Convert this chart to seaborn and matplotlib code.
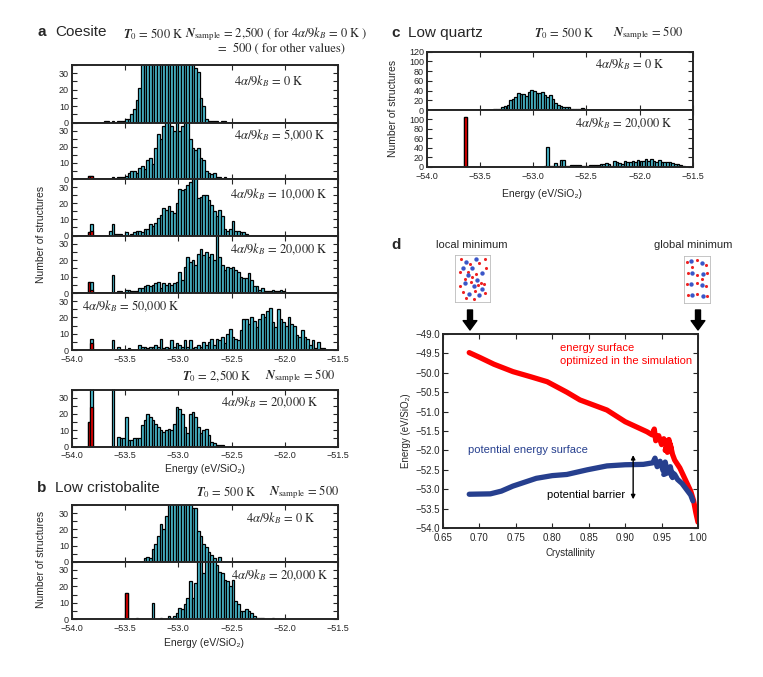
import numpy as np
import matplotlib
matplotlib.use("Agg")
from matplotlib import pyplot as plt
from matplotlib.ticker import FixedLocator, FuncFormatter, MultipleLocator
import seaborn as sns

# ---- histogram data: counts per 0.025 eV bin, starting at the given energy ----
BIN = 0.025

coesite_start = -53.85
coesite_0K_start = -53.7
coesite_0K = [1, 1, 0, 1, 0, 1, 1, 1, 2, 2, 5, 8, 14, 21,
              40, 60, 85, 110, 135, 160, 180, 195, 205, 210, 205, 195, 180, 160, 135, 110, 85, 60, 45, 38,
              33, 31, 15, 10, 2, 1, 1, 1, 1, 0, 1, 1]
coesite_5000K = [2, 2, 0, 0, 0, 0, 0, 0, 0,
                 1, 0, 1, 1, 1, 2, 4, 5, 5, 4, 7, 8, 6, 12, 13, 9, 19, 28, 25, 33, 38, 36, 33, 30,
                 37, 30, 33, 36, 36, 25, 19, 18, 19, 13, 12, 5, 4, 3, 4, 1, 1, 0, 1]
coesite_5000K_red = [2, 2]
coesite_10000K = [2, 7, 0, 0, 0, 0, 0, 0,
                  3, 7, 1, 1, 1, 0, 2, 0, 1, 2, 3, 3, 2, 4, 4, 7, 6, 8, 11, 13, 17, 16, 18, 15, 14,
                  20, 29, 28, 29, 31, 33, 37, 36, 23, 24, 25, 25, 22, 19, 15, 12, 16, 12, 4, 3, 4, 9,
                  3, 3, 2, 2, 1]
coesite_10000K_red = [2, 3]
coesite_20000K = [7, 7, 0, 0, 0, 0, 0, 0, 0,
                  11, 0, 1, 1, 0, 2, 2, 1, 1, 1, 3, 3, 4, 5, 4, 5, 6, 7, 3, 6, 5, 6, 5, 6, 7, 13, 8,
                  16, 22, 19, 20, 17, 24, 27, 23, 25, 22, 24, 20, 36, 22, 17, 14, 16, 15, 16, 14, 13,
                  10, 9, 9, 12, 8, 4, 4, 2, 3, 1, 1, 1, 2, 1, 1, 2, 1]
coesite_20000K_red = [7, 2]
coesite_50000K = [0, 7, 0, 0, 0, 0, 0, 0, 0,
                  6, 0, 2, 0, 0, 0, 1, 0, 0, 0, 3, 2, 2, 1, 2, 2, 3, 2, 7, 1, 2, 1, 6, 2, 4, 3, 2, 6,
                  2, 6, 1, 2, 3, 2, 5, 3, 5, 7, 3, 7, 6, 8, 4, 10, 13, 8, 7, 6, 12, 19, 19, 16, 20, 18,
                  14, 19, 22, 20, 24, 26, 17, 14, 25, 19, 17, 15, 20, 16, 15, 9, 8, 12, 8, 7, 3, 6, 1,
                  5, 1, 1]
coesite_50000K_red = [0, 4]
coesite_hot = [15, 40, 0, 0, 0, 0, 0, 0, 0, 45, 0,
               6, 5, 5, 18, 4, 4, 5, 5, 5, 13, 16, 20, 18, 16, 14, 12, 10, 9, 10, 11, 10, 14, 24, 23,
               20, 12, 8, 20, 21, 18, 12, 8, 10, 11, 7, 3, 2, 1, 1, 1]
coesite_hot_red = [15, 24]

cristo_0K_start = -53.325
cristo_0K = [2, 3, 2, 8, 11, 16, 23, 20, 28, 36, 38, 40, 38, 36, 37, 36, 36, 36, 33, 33, 19,
             16, 11, 9, 6, 4, 2, 0, 3]
cristo_20000K_start = -53.5
cristo_20000K = [16, 0, 0, 0, 1, 0, 0, 0, 0, 0, 10, 0, 0, 1, 0, 0, 2, 1, 2, 4, 7, 6, 9, 13, 23,
                 13, 22, 38, 37, 28, 38, 36, 36, 36, 33, 29, 28, 24, 23, 20, 24, 11, 9, 5, 5, 6, 5,
                 4, 2, 1, 1, 1, 0, 0, 0, 1]
cristo_20000K_red = [16]

quartz_0K_start = -53.425
quartz_0K = [1, 1, 2, 3, 3, 6, 8, 11, 20, 23, 26, 35, 33, 32, 28, 38, 42, 40, 36, 36, 37, 31, 26,
             30, 23, 14, 10, 8, 7, 7, 6, 2, 2, 2, 3, 4, 2, 1, 1, 1, 0, 1, 0, 1, 1]
quartz_20000K_start = -53.65
quartz_20000K = ([106] + [0] * 29 +
                 [1, 41, 1, 2, 7, 1, 14, 14, 1, 1, 4, 3, 3, 4, 1, 2, 1, 4, 4, 4, 4, 6, 6, 7, 5, 2,
                  13, 9, 8, 6, 13, 10, 9, 13, 11, 14, 13, 12, 17, 13, 16, 13, 10, 14, 11, 9, 10, 10,
                  8, 5, 5, 4, 2])
quartz_20000K_red = [106]

# ---- panel d curves ----
opt_x = [0.686, 0.70, 0.72, 0.746, 0.77, 0.793, 0.82, 0.838, 0.875, 0.90, 0.93, 0.937, 0.94,
         0.942, 0.946, 0.95, 0.953, 0.957, 0.955, 0.96, 0.963, 0.958, 0.962, 0.965, 0.968,
         0.975, 0.98, 0.985, 0.99, 0.994, 0.997, 1.0]
opt_y = [-49.48, -49.6, -49.78, -49.97, -50.1, -50.23, -50.5, -50.7, -50.96, -51.26, -51.52,
         -51.6, -51.45, -51.75, -51.62, -51.85, -51.7, -51.9, -52.0, -51.72, -51.95, -52.05,
         -51.85, -52.1, -52.25, -52.45, -52.65, -52.85, -53.05, -53.3, -53.6, -53.85]
pes_x = [0.686, 0.715, 0.73, 0.746, 0.762, 0.778, 0.80, 0.82, 0.848, 0.875, 0.90, 0.925, 0.938,
         0.941, 0.944, 0.948, 0.952, 0.955, 0.958, 0.953, 0.962, 0.965, 0.96, 0.968, 0.972,
         0.978, 0.984, 0.99, 0.993]
pes_y = [-53.13, -53.12, -53.05, -52.92, -52.82, -52.72, -52.65, -52.62, -52.5, -52.4, -52.37,
         -52.36, -52.32, -52.2, -52.42, -52.28, -52.52, -52.3, -52.58, -52.62, -52.42, -52.7,
         -52.5, -52.62, -52.75, -52.85, -53.0, -53.15, -53.3]

# atoms of the two structure thumbnails (unit-box coordinates)
local_si_x = [0.3, 0.6, 0.2, 0.5, 0.8, 0.35, 0.65, 0.25, 0.55, 0.8, 0.4, 0.7]
local_si_y = [0.85, 0.92, 0.72, 0.7, 0.6, 0.55, 0.45, 0.38, 0.3, 0.25, 0.12, 0.1]
local_o_x = [0.15, 0.42, 0.7, 0.9, 0.1, 0.35, 0.62, 0.92, 0.25, 0.5, 0.78, 0.12, 0.45, 0.68,
             0.9, 0.2, 0.58, 0.3, 0.85, 0.55]
local_o_y = [0.9, 0.8, 0.82, 0.92, 0.62, 0.63, 0.58, 0.7, 0.47, 0.5, 0.38, 0.3, 0.4, 0.32,
             0.15, 0.18, 0.2, 0.05, 0.35, 0.02]
glob_si_x = [0.25, 0.7, 0.3, 0.75, 0.25, 0.7, 0.3, 0.75]
glob_si_y = [0.88, 0.85, 0.62, 0.6, 0.38, 0.35, 0.12, 0.1]
glob_o_x = [0.08, 0.48, 0.9, 0.12, 0.52, 0.92, 0.08, 0.48, 0.9, 0.12, 0.52, 0.92, 0.3, 0.7]
glob_o_y = [0.86, 0.9, 0.8, 0.62, 0.58, 0.62, 0.38, 0.4, 0.32, 0.12, 0.15, 0.1, 0.75, 0.48]

CYAN = "#4cbfd4"
RED = "#dd0000"
W, H = 763, 677

sns.set_style("ticks")
plt.rcParams["font.family"] = ["Liberation Sans", "DejaVu Sans"]
plt.rcParams["mathtext.fontset"] = "stix"

fig = plt.figure(figsize=(W / 100, H / 100), dpi=100)


def rect(x0, y0, x1, y1):
    return [x0 / W, 1 - y1 / H, (x1 - x0) / W, (y1 - y0) / H]


def ftext(x, y, s, **kw):
    kw.setdefault("va", "center")
    return fig.text(x / W, 1 - y / H, s, **kw)


def minus(fmt):
    return FuncFormatter(lambda v, p: fmt.format(v).replace("-", "\u2212"))


def hist(ax, start, counts, color):
    centers = start + BIN * (np.arange(len(counts)) + 0.5)
    sns.histplot(x=centers, weights=counts, binwidth=BIN, binrange=(-54.0, -51.5), ax=ax,
                 color=color, edgecolor="black", linewidth=0.9, alpha=1)


def style(ax, ymax, yticks, labels_x):
    ax.set_xlim(-54, -51.5)
    ax.set_ylim(0, ymax)
    ax.xaxis.set_major_locator(FixedLocator([-54, -53.5, -53, -52.5, -52, -51.5]))
    ax.xaxis.set_major_formatter(minus("{:.1f}"))
    ax.yaxis.set_major_locator(FixedLocator(yticks))
    if ymax <= 40:
        ax.yaxis.set_minor_locator(MultipleLocator(5))
    ax.tick_params(which="both", direction="in", top=True, right=True, labelsize=6.5,
                   length=3.5, width=0.8, pad=2)
    ax.tick_params(axis="x", pad=3.5, labelbottom=labels_x)
    ax.set_xlabel("")
    ax.set_ylabel("")
    for s in ax.spines.values():
        s.set_linewidth(1.4)


def kb_label(ax, s, x, y, ha="right"):
    ax.text(x, y, r"$4\alpha/9k_B$ = " + s, transform=ax.transAxes, ha=ha, va="center",
            family="STIXGeneral", fontsize=9)


# ---- panel a ----
ax_l, ax_r = 71.7, 338.3
row_y = [65, 122.5, 179, 235.5, 293, 350]
a_sets = [
    (coesite_0K_start, coesite_0K, None, "0 K", 0.87, 0.72, "right"),
    (coesite_start, coesite_5000K, coesite_5000K_red, "5,000 K", 0.95, 0.77, "right"),
    (coesite_start, coesite_10000K, coesite_10000K_red, "10,000 K", 0.96, 0.74, "right"),
    (coesite_start, coesite_20000K, coesite_20000K_red, "20,000 K", 0.96, 0.77, "right"),
    (coesite_start, coesite_50000K, coesite_50000K_red, "50,000 K", 0.04, 0.76, "left"),
]
for k, (st, cnt, red, lab, tx, ty, ha) in enumerate(a_sets):
    ax = fig.add_axes(rect(ax_l, row_y[k], ax_r, row_y[k + 1]))
    hist(ax, st, cnt, CYAN)
    if red is not None:
        hist(ax, st, red, RED)
    style(ax, 35, [0, 10, 20, 30], k == 4)
    kb_label(ax, lab, tx, ty, ha)

ax = fig.add_axes(rect(ax_l, 389.5, ax_r, 446.5))
hist(ax, coesite_start, coesite_hot, CYAN)
hist(ax, coesite_start, coesite_hot_red, RED)
style(ax, 35, [0, 10, 20, 30], True)
kb_label(ax, "20,000 K", 0.925, 0.77)

# ---- panel b ----
ax = fig.add_axes(rect(ax_l, 505, ax_r, 561.7))
hist(ax, cristo_0K_start, cristo_0K, CYAN)
style(ax, 35, [0, 10, 20, 30], False)
kb_label(ax, "0 K", 0.913, 0.77)
ax = fig.add_axes(rect(ax_l, 561.7, ax_r, 619.3))
hist(ax, cristo_20000K_start, cristo_20000K, CYAN)
hist(ax, cristo_20000K_start, cristo_20000K_red, RED)
style(ax, 35, [0, 10, 20, 30], True)
kb_label(ax, "20,000 K", 0.963, 0.77)

# ---- panel c ----
cx_l, cx_r = 426.7, 692.7
ax = fig.add_axes(rect(cx_l, 51.7, cx_r, 110))
hist(ax, quartz_0K_start, quartz_0K, CYAN)
style(ax, 120, [0, 20, 40, 60, 80, 100, 120], False)
kb_label(ax, "0 K", 0.895, 0.78)
ax = fig.add_axes(rect(cx_l, 110, cx_r, 166.7))
hist(ax, quartz_20000K_start, quartz_20000K, CYAN)
hist(ax, quartz_20000K_start, quartz_20000K_red, RED)
style(ax, 120, [0, 20, 40, 60, 80, 100], True)
kb_label(ax, "20,000 K", 0.925, 0.77)

# ---- headers and axis labels ----
serif = dict(family="STIXGeneral", fontsize=9)
T0 = r"$\mathbfit{T}_0$"
NS = r"$\mathbfit{N}_{\mathrm{sample}}$"
ftext(38, 32, "a", fontsize=11, weight="bold")
ftext(55, 32, "Coesite", fontsize=11)
ftext(123, 34, T0 + " = 500 K", **serif)
ftext(185, 34, NS + r" = 2,500 ( for $4\alpha/9k_B$ = 0 K )", **serif)
ftext(218, 49, "=  500 ( for other values)", **serif)
ftext(182, 376, T0 + " = 2,500 K", **serif)
ftext(265, 376, NS + " = 500", **serif)
ftext(37, 488, "b", fontsize=11, weight="bold")
ftext(55, 488, "Low cristobalite", fontsize=11)
ftext(196, 492, T0 + " = 500 K", **serif)
ftext(269, 492, NS + " = 500", **serif)
ftext(391, 33, "c", fontsize=11, weight="bold")
ftext(408, 33, "Low quartz", fontsize=11)
ftext(534, 33, T0 + " = 500 K", **serif)
ftext(613, 33, NS + " = 500", **serif)
ftext(391, 245, "d", fontsize=11, weight="bold")

lab = dict(fontsize=7.5, ha="center")
ftext(41, 234, "Number of structures", rotation=90, **lab)
ftext(41, 559, "Number of structures", rotation=90, **lab)
ftext(393, 108, "Number of structures", rotation=90, **lab)
ftext(205, 469, "Energy (eV/SiO\u2082)", **lab)
ftext(204, 643, "Energy (eV/SiO\u2082)", **lab)
ftext(542, 194, "Energy (eV/SiO\u2082)", **lab)

# ---- panel d ----
axd = fig.add_axes(rect(443, 334, 698, 528))
sns.lineplot(x=opt_x, y=opt_y, sort=False, estimator=None, color="#ff0000", linewidth=3.8,
             solid_capstyle="round", solid_joinstyle="round", ax=axd)
sns.lineplot(x=pes_x, y=pes_y, sort=False, estimator=None, color="#263f8e", linewidth=3.8,
             solid_capstyle="round", solid_joinstyle="round", ax=axd)
axd.set_xlim(0.65, 1.0)
axd.set_ylim(-54, -49)
axd.xaxis.set_major_locator(MultipleLocator(0.05))
axd.yaxis.set_major_locator(MultipleLocator(0.5))
axd.xaxis.set_major_formatter(minus("{:.2f}"))
axd.yaxis.set_major_formatter(minus("{:.1f}"))
axd.tick_params(direction="in", top=True, right=True, labelsize=7, length=3.5, width=0.8, pad=2)
axd.tick_params(axis="x", pad=3.5)
for s in axd.spines.values():
    s.set_linewidth(1.4)
axd.set_xlabel("Crystallinity", fontsize=7, labelpad=4)
axd.set_ylabel("Energy (eV/SiO\u2082)", fontsize=7, labelpad=3)
axd.text(0.8106, -49.37, "energy surface", color="#ff0000", fontsize=8, va="center")
axd.text(0.8106, -49.70, "optimized in the simulation", color="#ff0000", fontsize=8, va="center")
axd.text(0.6847, -51.99, "potential energy surface", color="#263f8e", fontsize=8, va="center")
axd.text(0.793, -53.15, "potential barrier", color="black", fontsize=8, va="center")
axd.annotate("", xy=(0.911, -52.12), xytext=(0.911, -53.26),
             arrowprops=dict(arrowstyle="<|-|>", color="black", lw=1, mutation_scale=6,
                             shrinkA=0, shrinkB=0))

ftext(472, 245, "local minimum", fontsize=8, ha="center")
ftext(693, 245, "global minimum", fontsize=8, ha="center")
for xa in (470, 698):
    fig.add_artist(matplotlib.patches.FancyArrowPatch(
        (xa / W, 1 - 310 / H), (xa / W, 1 - 330 / H), transform=fig.transFigure,
        arrowstyle="simple,head_width=1.1,head_length=0.75,tail_width=0.4",
        mutation_scale=9, color="black", shrinkA=0, shrinkB=0))

for r, sx, sy, ox, oy in [((455, 255, 490, 302), local_si_x, local_si_y, local_o_x, local_o_y),
                          ((684, 256, 710, 303), glob_si_x, glob_si_y, glob_o_x, glob_o_y)]:
    axs = fig.add_axes(rect(*r))
    sns.scatterplot(x=ox, y=oy, color="#ee2222", s=5, linewidth=0, ax=axs)
    sns.scatterplot(x=sx, y=sy, color="#3a56c8", s=10, linewidth=0, ax=axs)
    axs.set_xlim(-0.05, 1.05)
    axs.set_ylim(-0.05, 1.0)
    axs.set_xticks([])
    axs.set_yticks([])
    for s in axs.spines.values():
        s.set_linewidth(0.6)
        s.set_color("#bbbbbb")

fig.savefig("out.png", dpi=100)
